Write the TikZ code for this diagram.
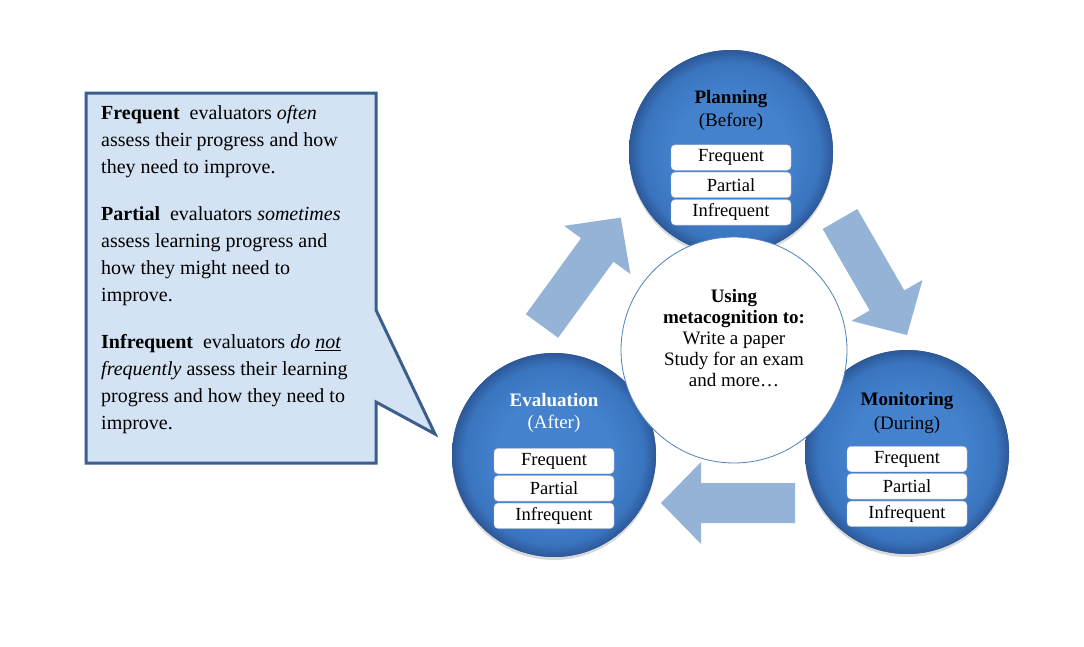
\documentclass[tikz,border=0pt]{standalone}
\usepackage{fontspec}
\setmainfont{Liberation Serif}
\usetikzlibrary{positioning,shadows}
\definecolor{orbin}{RGB}{68,130,206}
\definecolor{orbmid}{RGB}{58,116,190}
\definecolor{orbout}{RGB}{44,88,152}
\definecolor{shaft}{RGB}{149,179,215}
\definecolor{notefill}{RGB}{211,227,243}
\definecolor{noteline}{RGB}{59,94,140}
\definecolor{hubline}{RGB}{79,129,189}
\pgfdeclareradialshading{orb}{\pgfpoint{0bp}{0bp}}{color(0bp)=(orbin); color(14bp)=(orbin); color(22bp)=(orbmid); color(25bp)=(orbout); color(50bp)=(orbout)}

\begin{document}
\begin{tikzpicture}[x=1pt,y=-1pt,
 orb/.style={circle,minimum size=204pt,inner sep=0pt,fill=orbout,shading=orb,drop shadow={shadow xshift=0pt,shadow yshift=-3pt,opacity=0.3}},
 ttl/.style={font=\fontsize{19}{21}\selectfont\bfseries},
 sub/.style={font=\fontsize{19}{21}\selectfont},
 pick/.style={draw=blue!15!gray!50,fill=white,rounded corners=4pt,minimum width=120pt,minimum height=25.5pt,inner sep=0pt,font=\fontsize{18.5}{20}\selectfont},
 hub/.style={circle,minimum size=226pt,fill=white,draw=hubline,line width=0.8pt},
 cyc/.pic={\fill[shaft] (0,-20) -- (94,-20) -- (94,-41) -- (134,0) -- (94,41) -- (94,20) -- (0,20) -- cycle;}]
\useasboundingbox (0,0) rectangle (1084,646);

% cycle arrows
\pic[rotate=54] at (542,326) {cyc};
\pic[rotate=-60] at (840,219) {cyc};
\pic[rotate=180] at (795,503) {cyc};

% callout
\filldraw[fill=notefill,draw=noteline,line width=3pt,line join=miter]
 (86,93) -- (376,93) -- (376,310) -- (435,434) -- (376,402) -- (376,463) -- (86,463) -- cycle;
\node[anchor=north west,inner sep=0pt,align=left,font=\fontsize{20}{27}\selectfont] (note) at (101,105)
 {\textbf{Frequent}\enspace evaluators \textit{often}\\
  assess their progress and how\\
  they need to improve.\\[20pt]
  \textbf{Partial}\enspace evaluators \textit{sometimes}\\
  assess learning progress and\\
  how they might need to\\
  improve.\\[20pt]
  \textbf{Infrequent}\enspace evaluators \textit{do \underline{not}}\\
  \textit{frequently} assess their learning\\
  progress and how they need to\\
  improve.};

% phases
\node[orb] (plan) at (731,152) {};
\node[ttl] (planT) at ([yshift=53pt]plan.center) {Planning};
\node[sub] (planS) at ([yshift=30pt]plan.center) {(Before)};
\node[pick] (planF) at ([yshift=-5.5pt]plan.center) {Frequent};
\node[pick,below=1.5pt of planF] (planP) {Partial};
\node[pick,below=1.5pt of planP] (planI) {Infrequent};

\node[orb] (mon) at (907,452) {};
\node[ttl] (monT) at ([yshift=51pt]mon.center) {Monitoring};
\node[sub] (monS) at ([yshift=27pt]mon.center) {(During)};
\node[pick] (monF) at ([yshift=-7pt]mon.center) {Frequent};
\node[pick,below=1.5pt of monF] (monP) {Partial};
\node[pick,below=1.5pt of monP] (monI) {Infrequent};

\node[orb] (eval) at (554,455) {};
\node[ttl,text=white] (evalT) at ([yshift=55pt]eval.center) {Evaluation};
\node[sub,text=white] (evalS) at ([yshift=31pt]eval.center) {(After)};
\node[pick] (evalF) at ([yshift=-6pt]eval.center) {Frequent};
\node[pick,below=1.5pt of evalF] (evalP) {Partial};
\node[pick,below=1.5pt of evalP] (evalI) {Infrequent};

% centre
\node[hub] (hub) at (734,350) {};
\node[align=center,font=\fontsize{19}{21}\selectfont] (aim) at ([yshift=12pt]hub.center)
 {\textbf{Using}\\\textbf{metacognition to:}\\Write a paper\\Study for an exam\\and more\ldots};
\end{tikzpicture}
\end{document}
